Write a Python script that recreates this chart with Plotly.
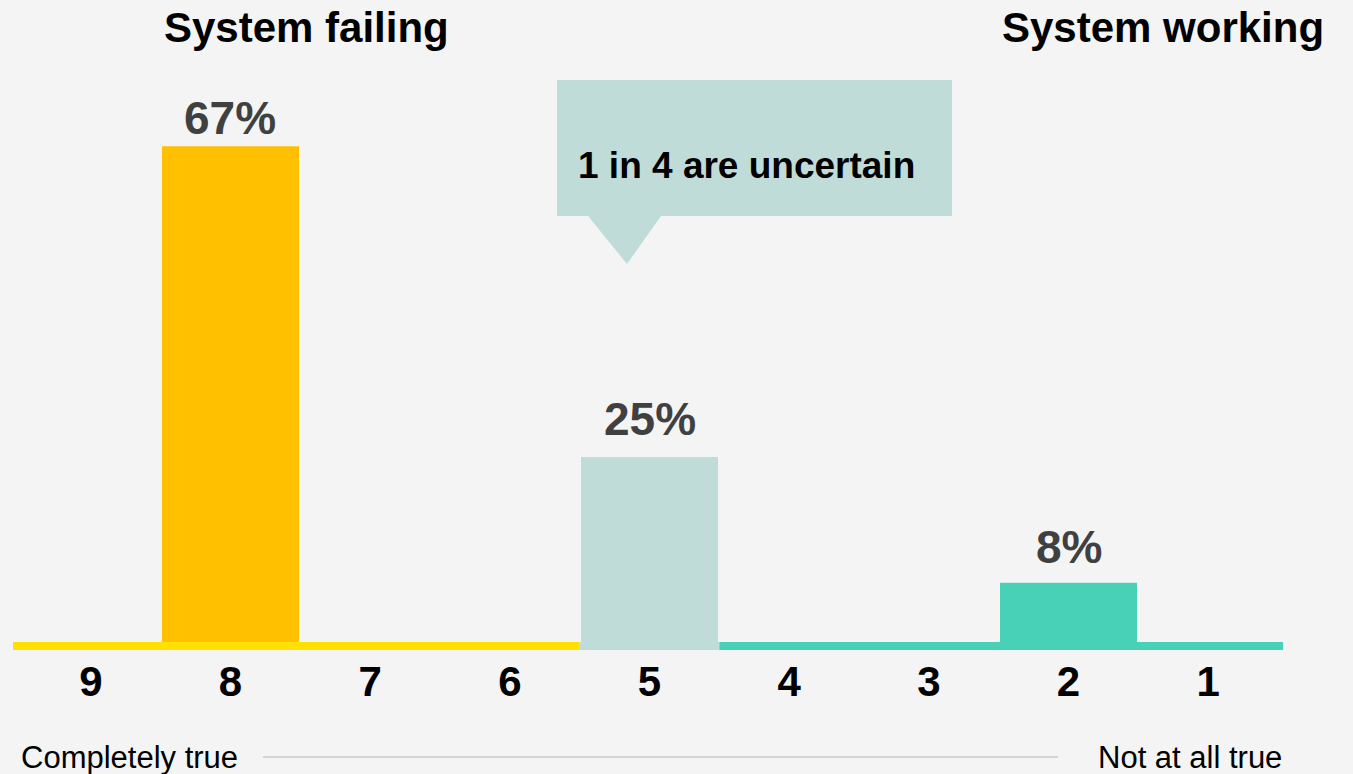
import plotly.graph_objects as go

# ---------------- data ----------------
categories = ["9", "8", "7", "6", "5", "4", "3", "2", "1"]
values = [0, 67, 0, 0, 25, 0, 0, 8, 0]
value_labels = ["", "67%", "", "", "25%", "", "", "8%", ""]
bar_colors = ["#FFC000", "#FFC000", "#FFC000", "#FFC000", "#C0DCD8",
              "#48D1B7", "#48D1B7", "#48D1B7", "#48D1B7"]
side_titles = ["System failing", "System working"]
scale_ends = ["Completely true", "Not at all true"]
callout_text = "1 in 4 are uncertain"

# styling: extra lift (px) of each value label above its bar
label_lift = [0, 0, 0, 0, 10, 0, 0, 8, 0]

# baseline segments: (start index, end index, colour)
baseline_segments = [(-0.557, 3.5, "#FFE000"), (3.5, 4.5, "#C0DCD8"), (4.5, 8.536, "#48D1B7")]

# ---------------- layout geometry ----------------
W, H = 1353, 774
L, R, T, B = 7, 61, 60, 124
PW = W - L - R
PH = H - T - B
Y0_PX = 642
PX_PER_UNIT = 7.4
ymin = -((T + PH) - Y0_PX) / PX_PER_UNIT
ymax = (Y0_PX - T) / PX_PER_UNIT

FONT = "Arial, Liberation Sans, Helvetica, sans-serif"
BG = "#F4F4F4"


def px(xp):
    return (xp - L) / PW


def py(yp):
    return ((T + PH) - yp) / PH


fig = go.Figure()
fig.add_trace(go.Bar(
    x=categories,
    y=values,
    marker=dict(color=bar_colors, line=dict(width=0)),
    width=0.981,
    hoverinfo="skip",
))

shapes = []
for x0, x1, c in baseline_segments:
    shapes.append(dict(type="rect", xref="x", yref="y", x0=x0, x1=x1, y0=ymin, y1=0,
                       fillcolor=c, line=dict(width=0), layer="above"))

# callout bubble
path = (f"M {px(557)},{py(80)} L {px(952)},{py(80)} L {px(952)},{py(216)} "
        f"L {px(661)},{py(216)} L {px(627)},{py(264)} L {px(588)},{py(216)} "
        f"L {px(557)},{py(216)} Z")
shapes.append(dict(type="path", xref="paper", yref="paper", path=path,
                   fillcolor="#C0DCD8", line=dict(width=0), layer="above"))

# scale connector line
shapes.append(dict(type="line", xref="paper", yref="paper",
                   x0=px(263), x1=px(1058), y0=py(757), y1=py(757),
                   line=dict(color="#C8C8C8", width=1.5)))

annotations = []
for i, (val, lab, lift) in enumerate(zip(values, value_labels, label_lift)):
    if lab:
        annotations.append(dict(
            text=lab, x=i, y=val, xref="x", yref="y",
            xanchor="center", yanchor="bottom", yshift=lift, showarrow=False,
            font=dict(family=FONT, size=46, color="#404040", weight="bold")))

annotations += [
    dict(text=side_titles[0], x=px(306.5), y=py(27), xref="paper", yref="paper",
         xanchor="center", yanchor="middle", showarrow=False,
         font=dict(family=FONT, size=42, color="#000000", weight="bold")),
    dict(text=side_titles[1], x=px(1163), y=py(27), xref="paper", yref="paper",
         xanchor="center", yanchor="middle", showarrow=False,
         font=dict(family=FONT, size=42, color="#000000", weight="bold")),
    dict(text=callout_text, x=px(746.5), y=py(165), xref="paper", yref="paper",
         xanchor="center", yanchor="middle", showarrow=False,
         font=dict(family=FONT, size=37, color="#000000", weight="bold")),
    dict(text=scale_ends[0], x=px(19), y=py(757), xref="paper", yref="paper",
         xanchor="left", yanchor="middle", showarrow=False,
         font=dict(family=FONT, size=31, color="#000000")),
    dict(text=scale_ends[1], x=px(1284), y=py(757), xref="paper", yref="paper",
         xanchor="right", yanchor="middle", showarrow=False,
         font=dict(family=FONT, size=31, color="#000000")),
]

fig.update_layout(
    width=W, height=H,
    margin=dict(l=L, r=R, t=T, b=B, pad=0),
    paper_bgcolor=BG,
    plot_bgcolor="rgba(0,0,0,0)",
    showlegend=False,
    bargap=0.019,
    shapes=shapes,
    annotations=annotations,
    xaxis=dict(
        type="category",
        range=[-0.6, 8.6],
        showgrid=False, zeroline=False, showline=False, ticks="",
        tickfont=dict(family=FONT, size=42, color="#000000", weight="bold"),
        ticklabelstandoff=3,
        fixedrange=True,
    ),
    yaxis=dict(
        range=[ymin, ymax],
        visible=False,
        showgrid=False, zeroline=False,
        fixedrange=True,
    ),
)

fig.write_html(
    "out.html",
    config={"displayModeBar": False},
    post_script=("document.body.style.margin='0';"
                 "document.body.style.overflow='hidden';"
                 f"document.body.style.background='{BG}';"),
)
